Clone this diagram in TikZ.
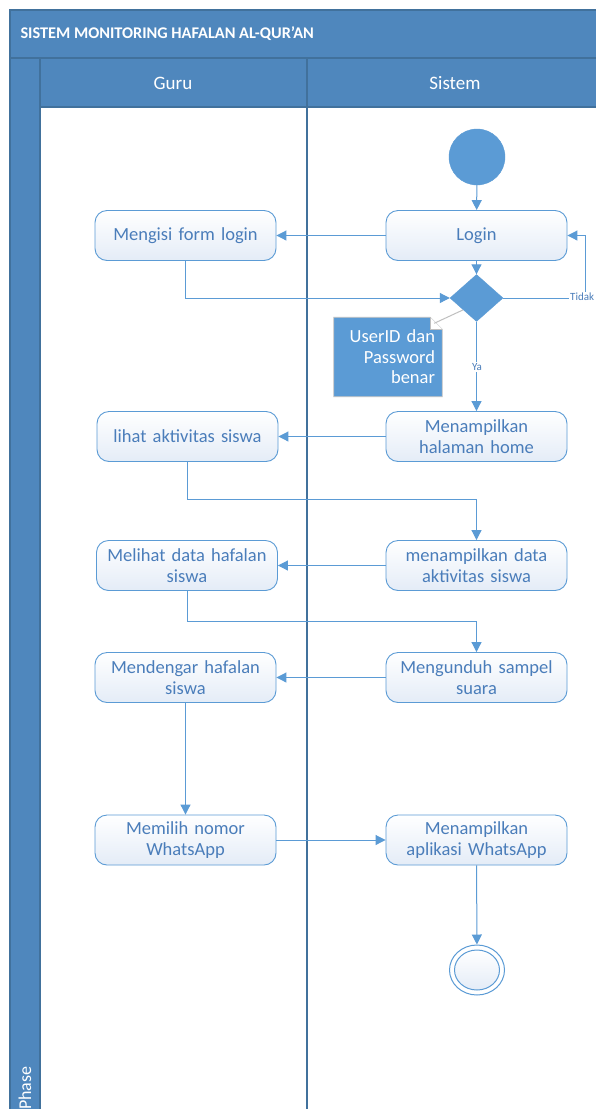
\documentclass[tikz,border=0pt]{standalone}
\usepackage{fontspec}
\setmainfont{Carlito}
\usetikzlibrary{shapes.geometric,arrows.meta}
\definecolor{band}{HTML}{4F87BD}
\definecolor{bandline}{HTML}{41719C}
\definecolor{flow}{HTML}{5B9BD5}
\definecolor{txt}{HTML}{4A7DBA}
\definecolor{boxbot}{HTML}{E4ECF7}
\definecolor{notegray}{HTML}{BFBFBF}
\pgfdeclarelayer{lanes}
\pgfdeclarelayer{notes}
\pgfsetlayers{lanes,notes,main}
\begin{document}
\begin{tikzpicture}[x=1pt,y=-1pt,
  act/.style={draw=flow, line width=0.9pt, rounded corners=12pt,
    top color=white, bottom color=boxbot, minimum width=181pt,
    minimum height=50pt, text width=172pt, align=center, text=txt,
    inner sep=2pt, font=\fontsize{18.5}{21}\selectfont},
  flowline/.style={draw=flow, line width=1pt, -{Triangle[length=10pt,width=10pt]}},
  lbl/.style={fill=white, text=txt, inner sep=1pt, font=\fontsize{11}{13}\selectfont},
  hdr/.style={text=white, font=\fontsize{19}{22}\selectfont},
  laneframe/.style={draw=bandline, line width=1.2pt},
]
\useasboundingbox (0,0) rectangle (595,1109);

% swimlane frame
\begin{pgfonlayer}{lanes}
  \fill[white] (0,0) rectangle (595,1109);
  \filldraw[fill=band, laneframe] (10,10) rectangle (610,58);
  \filldraw[fill=band, laneframe] (10,58) rectangle (40,1120);
  \filldraw[fill=band, laneframe] (40,58) rectangle (307,107);
  \filldraw[fill=band, laneframe] (307,58) rectangle (610,107);
  \filldraw[fill=white, laneframe] (40,107) rectangle (307,1120);
  \filldraw[fill=white, laneframe] (307,107) rectangle (610,1120);
\end{pgfonlayer}

\node[text=white, anchor=west, font=\bfseries\fontsize{16.3}{19}\selectfont] (title) at (17,34) {SISTEM MONITORING HAFALAN AL-QUR’AN};
\node[hdr] (guru) at (173,83) {Guru};
\node[hdr] (sistem) at (455,83) {Sistem};
\node[text=white, rotate=90, anchor=east, font=\fontsize{18}{21}\selectfont] (phase) at (25,1063) {Phase};

% activities
\node[circle, fill=flow, draw=flow, minimum size=56pt, inner sep=0] (start) at (477,157) {};
\node[act] (login) at (476.5,235.5) {Login};
\node[act] (form) at (185.5,235.5) {Mengisi form login};
\node[diamond, fill=flow, draw=flow, minimum width=53pt, minimum height=47pt, inner sep=0] (dec) at (476.5,298) {};
\node[act] (home) at (476.5,436.5) {Menampilkan\\halaman home};
\node[act] (lihat) at (187.5,436.5) {lihat aktivitas siswa};
\node[act] (datasys) at (476.5,565.5) {menampilkan data\\aktivitas siswa};
\node[act] (melihat) at (187,565.5) {Melihat data hafalan\\siswa};
\node[act] (unduh) at (476.5,677.5) {Mengunduh sampel\\suara};
\node[act] (dengar) at (185.5,677.5) {Mendengar hafalan\\siswa};
\node[act] (pilih) at (185.5,840) {Memilih nomor\\WhatsApp};
\node[act] (apk) at (476.5,840) {Menampilkan\\aplikasi WhatsApp};
\node[ellipse, draw=flow, fill=white, line width=1pt, minimum width=55pt, minimum height=50pt, inner sep=0] (end) at (477,970) {};
\node[ellipse, draw=flow, line width=1pt, top color=white, bottom color=boxbot, minimum width=45pt, minimum height=40pt, inner sep=0] (endin) at (end.center) {};

% comment note
\node[text=white, text width=94pt, align=right, inner sep=0pt, minimum width=108pt, minimum height=79pt, font=\fontsize{18.5}{20.5}\selectfont] (note) at (388,357) {UserID dan\\Password\\benar};
\begin{pgfonlayer}{notes}
  \filldraw[fill=flow, draw=notegray, line width=0.8pt]
    (note.south west) -- (note.south east) -- ([yshift=-12pt]note.north east)
    -- ([xshift=-12pt]note.north east) -- (note.north west) -- cycle;
  \filldraw[fill=white, draw=notegray, line width=0.8pt]
    ([xshift=-12pt]note.north east) -- ([xshift=-12pt,yshift=-12pt]note.north east)
    -- ([yshift=-12pt]note.north east);
  \draw[notegray, line width=1pt] ([xshift=-8pt,yshift=-6pt]note.north east) -- (dec.south west);
\end{pgfonlayer}

% control flow
\draw[flowline] (start) -- (login);
\draw[flowline] (login) -- (form);
\draw[flowline] (form.south) |- (dec.west);
\draw[flowline] (login) -- (dec);
\coordinate (tcorner) at (585,298);
\draw[flowline] (dec.east) -- (tcorner) |- (login.east);
\node[lbl, anchor=west] (tidak) at (569,297) {Tidak};
\draw[flowline] (dec) -- (home);
\node[lbl] (ya) at (477,367) {Ya};
\draw[flowline] (home) -- (lihat);
\draw[flowline] (lihat.south) -- ++(0,38) -| (datasys.north);
\draw[flowline] (datasys) -- (melihat);
\draw[flowline] (melihat.south) -- ++(0,31) -| (unduh.north);
\draw[flowline] (unduh) -- (dengar);
\draw[flowline] (dengar) -- (pilih);
\draw[flowline] (pilih) -- (apk);
\draw[flowline] (apk) -- (end);
\end{tikzpicture}
\end{document}
